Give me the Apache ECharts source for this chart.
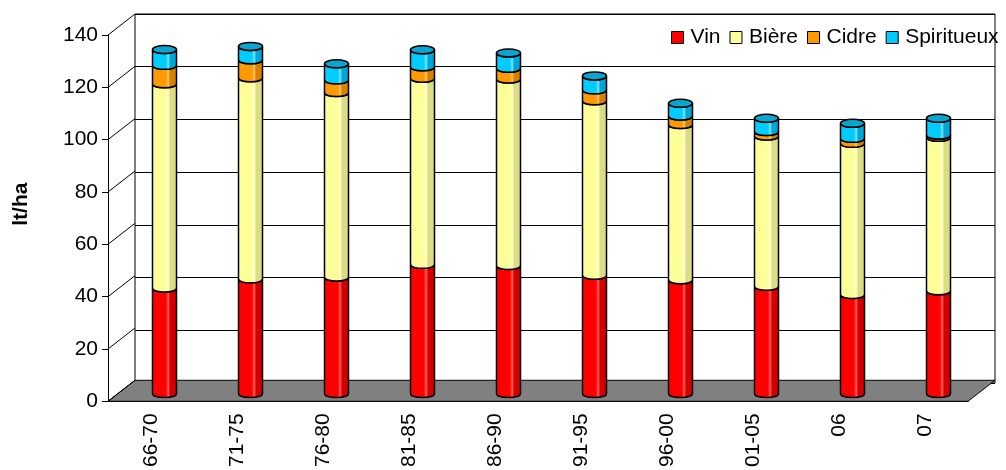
<!DOCTYPE html>
<html>
<head>
<meta charset="utf-8">
<script src="https://cdn.jsdelivr.net/npm/echarts@6/dist/echarts.min.js"></script>
<style>
  html, body { margin: 0; padding: 0; background: #fff; }
  #chart { width: 1006px; height: 470px; }
</style>
</head>
<body>
<div id="chart"></div>
<script>
// periodes
var categories = ['66-70', '71-75', '76-80', '81-85', '86-90', '91-95', '96-00', '01-05', '06', '07'];
// consommation en lt/ha
var vin        = [40.0, 43.5, 44.2, 49.0, 48.6, 44.9, 43.2, 40.7, 37.6, 39.0];
var biere      = [77.5, 76.3, 70.0, 70.6, 70.7, 66.2, 58.9, 57.0, 57.3, 58.2];
var cidre      = [7.0, 6.8, 4.8, 4.4, 4.1, 4.1, 3.2, 1.7, 1.9, 0.9];
var spiritueux = [6.0, 5.1, 6.1, 6.4, 5.8, 5.3, 4.8, 5.0, 5.7, 6.3];
var yTicks = [0, 20, 40, 60, 80, 100, 120, 140];

var layers = [
    {name: 'Vin', data: vin, color: '#ff0000', dark: '#d40000', light: '#ff5a5a'},
    {name: 'Bière', data: biere, color: '#ffff99', dark: '#dcdc84', light: '#ffffd0'},
    {name: 'Cidre', data: cidre, color: '#ff9900', dark: '#d88000', light: '#ffc060'},
    {name: 'Spiritueux', data: spiritueux, color: '#00ccff', dark: '#00a6d6', light: '#70e4ff'}
];

var DX = 27, DY = 21;   // profondeur 3D
var FONT = 'Liberation Sans, Arial, sans-serif';

var chart = echarts.init(document.getElementById('chart'));

// segments empiles (bas, haut) pour chaque couche
var base = categories.map(function () { return 0; });
var series = [];
layers.forEach(function (layer, k) {
    var items = layer.data.map(function (v, i) {
        var lo = base[i];
        base[i] = lo + v;
        return [i, lo, lo + v];
    });
    var isTop = k === layers.length - 1;
    series.push({
        name: layer.name,
        type: 'custom',
        xAxisIndex: 2,
        yAxisIndex: 2,
        z: 5,
        itemStyle: {color: layer.color, borderColor: '#000', borderWidth: 1},
        data: items,
        renderItem: function (params, api) {
            var x = api.value(0);
            var pHi = api.coord([x, api.value(2)]);
            var pLo = api.coord([x, api.value(1)]);
            var w = 24, ry = 4, k2 = ry * 4 / 3;
            var L = pHi[0] - w / 2, R = pHi[0] + w / 2;
            var yh = pHi[1], yl = pLo[1];
            var d = 'M' + L + ',' + yh +
                ' C' + L + ',' + (yh + k2) + ' ' + R + ',' + (yh + k2) + ' ' + R + ',' + yh +
                ' L' + R + ',' + yl +
                ' C' + R + ',' + (yl + k2) + ' ' + L + ',' + (yl + k2) + ' ' + L + ',' + yl + ' Z';
            var fill = new echarts.graphic.LinearGradient(0, 0, 1, 0, [
                {offset: 0, color: layer.color},
                {offset: 0.55, color: layer.color},
                {offset: 0.65, color: layer.light},
                {offset: 0.72, color: layer.dark},
                {offset: 1, color: layer.dark}
            ]);
            var children = [{
                type: 'path',
                shape: {pathData: d},
                style: {fill: fill, stroke: '#000', lineWidth: 1.5}
            }];
            if (isTop) {
                children.push({
                    type: 'ellipse',
                    shape: {cx: pHi[0], cy: yh, rx: w / 2, ry: ry},
                    style: {fill: '#0aa6cf', stroke: '#000', lineWidth: 1.5}
                });
            }
            return {type: 'group', children: children};
        }
    });
});

// sol gris
series.push({
    type: 'custom',
    xAxisIndex: 0,
    yAxisIndex: 0,
    z: 2,
    silent: true,
    data: [[0, 0]],
    renderItem: function (params, api) {
        var cs = params.coordSys;
        var y0 = api.coord([0, 0])[1];
        var x0 = cs.x, x1 = cs.x + cs.width;
        return {
            type: 'polygon',
            shape: {points: [[x0, y0], [x1, y0], [x1 + DX, y0 - DY], [x0 + DX, y0 - DY]]},
            style: {fill: '#808080', stroke: '#000', lineWidth: 1}
        };
    }
});

// diagonales du mur de gauche
series.push({
    type: 'custom',
    xAxisIndex: 0,
    yAxisIndex: 0,
    z: 3,
    silent: true,
    data: yTicks.map(function (v) { return [0, v]; }),
    renderItem: function (params, api) {
        var cs = params.coordSys;
        var y = api.coord([0, api.value(1)])[1];
        return {
            type: 'line',
            shape: {x1: cs.x, y1: y, x2: cs.x + DX, y2: y - DY},
            style: {stroke: '#000', lineWidth: 1}
        };
    }
});

var option = {
    animation: false,
    textStyle: {fontFamily: FONT},
    legend: {
        data: layers.map(function (l) { return l.name; }),
        left: 666,
        top: 22,
        icon: 'rect',
        itemWidth: 12,
        itemHeight: 12,
        itemGap: 9,
        itemStyle: {borderColor: '#000', borderWidth: 1},
        textStyle: {fontSize: 21, color: '#000', fontFamily: FONT, padding: [0, 0, 0, 2]}
    },
    grid: [
        // face avant (axes)
        {left: 108, right: 38, top: 35, bottom: 66},
        // mur du fond
        {left: 108 + DX, right: 38 - DX, top: 35 - DY, bottom: 66 + DY,
            show: true, backgroundColor: '#fff', borderColor: '#000', borderWidth: 1},
        // plan des colonnes
        {left: 108 + DX / 2, right: 38 - DX / 2, top: 35 - DY / 2, bottom: 66 + DY / 2}
    ],
    xAxis: [
        {
            type: 'category', gridIndex: 0, data: categories,
            axisLine: {lineStyle: {color: '#000', width: 1}},
            axisTick: {length: 7, lineStyle: {color: '#000'}},
            axisLabel: {rotate: 90, fontSize: 21, color: '#000', margin: 12, fontFamily: FONT}
        },
        {type: 'category', gridIndex: 1, data: categories, show: false},
        {type: 'category', gridIndex: 2, data: categories, show: false}
    ],
    yAxis: [
        {
            type: 'value', gridIndex: 0, min: 0, max: 140, interval: 20,
            name: 'lt/ha', nameLocation: 'middle', nameGap: 76, nameRotate: 90,
            nameTextStyle: {fontSize: 21, fontWeight: 'bold', color: '#000', fontFamily: FONT, padding: [0, 0, 0, 28]},
            axisLine: {show: true, lineStyle: {color: '#000', width: 1}},
            axisTick: {show: true, length: 6, lineStyle: {color: '#000'}},
            axisLabel: {fontSize: 21, color: '#000', margin: 10, fontFamily: FONT},
            splitLine: {show: false}
        },
        {
            type: 'value', gridIndex: 1, min: 0, max: 140, interval: 20,
            axisLine: {show: false}, axisTick: {show: false}, axisLabel: {show: false},
            splitLine: {show: true, lineStyle: {color: '#000', width: 1}}
        },
        {type: 'value', gridIndex: 2, min: 0, max: 140, interval: 20, show: false, splitLine: {show: false}}
    ],
    series: series
};

chart.setOption(option);
</script>
</body>
</html>
